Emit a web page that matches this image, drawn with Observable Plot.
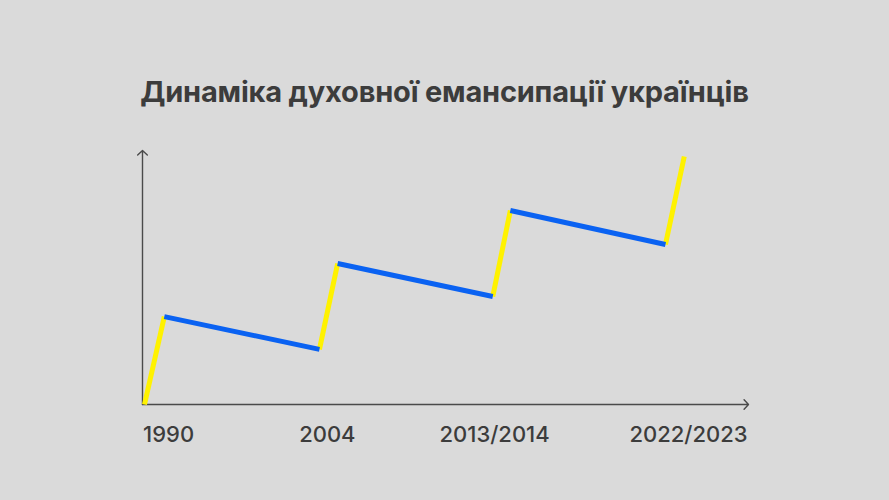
<!DOCTYPE html>
<html>
<head>
<meta charset="utf-8">
<script src="https://cdn.jsdelivr.net/npm/d3@7"></script>
<script src="https://cdn.jsdelivr.net/npm/@observablehq/plot@0.6"></script>
<style>
  html, body { margin: 0; padding: 0; background: #dadada; }
  #wrap { position: relative; width: 889px; height: 500px; overflow: hidden; background: #dadada; }
  #title { position: absolute; left: 0; top: 70px; width: 889px; text-align: center;
    font-family: Inter, "Open Sans", sans-serif; font-weight: 700; font-size: 29px; color: #3c3c3c;
    letter-spacing: -0.2px; line-height: 44px; }
  #chart { position: absolute; left: 0; top: 0; }
</style>
</head>
<body>
<div id="wrap">
  <div id="title">Динаміка духовної емансипації українців</div>
  <div id="chart"></div>
</div>
<script>
// Phase positions (abstract units) and emancipation level
const pointX = [0.33, 3.6, 29.2, 32.2, 57.8, 60.7, 86.3, 89.4];
const pointY = [0, 34.6, 21.7, 55.5, 42.5, 76.4, 63, 97.6];
// segment kinds: rise (yellow) then decline (blue), alternating
const segmentKind = ["rise", "decline", "rise", "decline", "rise", "decline", "rise"];
const tickLabels = ["1990", "2004", "2013/2014", "2022/2023"];
const tickX = [4.3, 30.5, 58.1, 90.1];

const segments = segmentKind.map((k, i) => ({
  kind: k, x1: pointX[i], y1: pointY[i], x2: pointX[i + 1], y2: pointY[i + 1]
}));
const ticks = tickLabels.map((t, i) => ({label: t, x: tickX[i]}));
const axes = [
  {x1: 0, y1: 0, x2: 0, y2: 100},
  {x1: 0, y1: 0, x2: 100, y2: 0}
];

const plot = Plot.plot({
  width: 889,
  height: 500,
  marginLeft: 142,
  marginRight: 141,
  marginTop: 150,
  marginBottom: 96,
  x: {domain: [0, 100], axis: null},
  y: {domain: [0, 100], axis: null},
  style: {background: "transparent", fontFamily: "Inter, 'Open Sans', sans-serif"},
  marks: [
    Plot.arrow(axes, {x1: "x1", y1: "y1", x2: "x2", y2: "y2", stroke: "#4a4a4a",
      strokeWidth: 1.4, headLength: 7, headAngle: 95}),
    Plot.link(segments.filter(d => d.kind === "rise"), {x1: "x1", y1: "y1", x2: "x2", y2: "y2",
      stroke: "#fff200", strokeWidth: 5}),
    Plot.link(segments.filter(d => d.kind === "decline"), {x1: "x1", y1: "y1", x2: "x2", y2: "y2",
      stroke: "#0a62f2", strokeWidth: 5}),
    Plot.text(ticks, {x: "x", y: () => 0, text: "label", dy: 30, fontSize: 22,
      fontWeight: 500, fill: "#3c3c3c"})
  ]
});
document.getElementById("chart").appendChild(plot);
</script>
</body>
</html>
